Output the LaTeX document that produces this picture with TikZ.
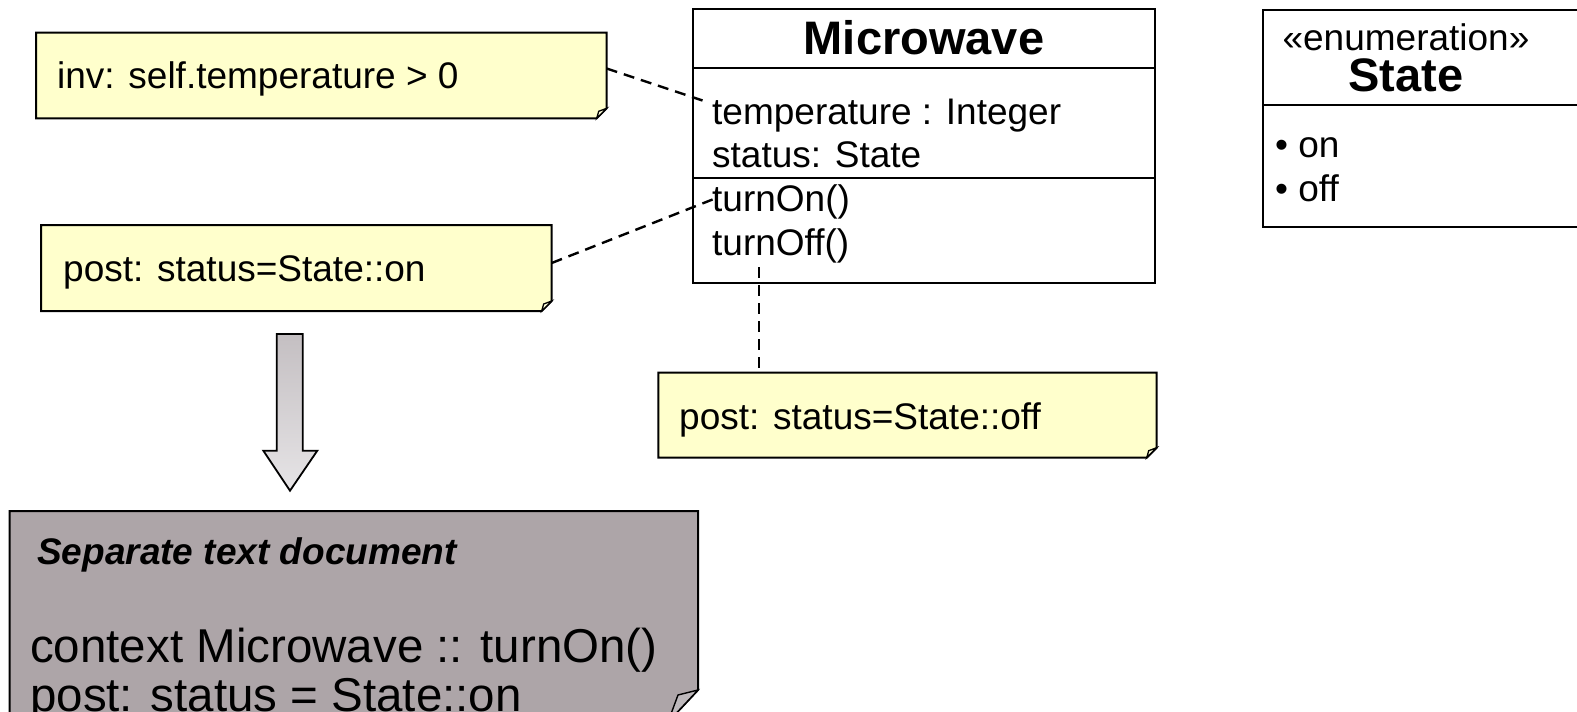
\documentclass[tikz,border=0pt]{standalone}
\usepackage{fontspec}
\setmainfont{Liberation Sans}
\usetikzlibrary{calc,fit}
\definecolor{notefill}{RGB}{255,255,204}
\definecolor{docfill}{RGB}{173,165,168}
\definecolor{docfold}{RGB}{190,185,188}
\definecolor{arrtop}{RGB}{196,191,194}
\definecolor{arrbot}{RGB}{230,228,230}
\begin{document}
\begin{tikzpicture}[x=1pt,y=-1pt,
  frame/.style={inner sep=0pt, outer sep=0pt},
  noteshape/.style={draw=black, line width=2pt, fill=notefill, line join=miter},
  foldshape/.style={draw=black, line width=1.3pt, fill=notefill!70!white},
  docshape/.style={draw=black, line width=2pt, fill=docfill},
  classbox/.style={draw=black, line width=1.9pt},
  txt/.style={inner sep=0pt, anchor=base west, font=\fontsize{37}{44}\selectfont},
  bigtxt/.style={inner sep=0pt, anchor=base west, font=\fontsize{47.5}{52}\selectfont},
  conn/.style={draw=black, line width=2.4pt, dash pattern=on 11pt off 7pt}]
\useasboundingbox (0,0) rectangle (1577,712);
\clip (0,0) rectangle (1577,712);

% ---------- notes ----------
\coordinate (n1a) at (36,32.7);   \coordinate (n1b) at (606.7,118.3);
\coordinate (n2a) at (41,225);    \coordinate (n2b) at (551.7,311);
\coordinate (n3a) at (658.3,372.7); \coordinate (n3b) at (1156.7,457.7);
\node[frame, fit=(n1a)(n1b)] (note1) {};
\node[frame, fit=(n2a)(n2b)] (note2) {};
\node[frame, fit=(n3a)(n3b)] (note3) {};
\foreach \n in {note1,note2,note3}{
  \path[noteshape] (\n.north west) -- (\n.north east) -- ($(\n.south east)+(0,-10)$)
     -- ($(\n.south east)+(-10,0)$) -- (\n.south west) -- cycle;
  \path[foldshape] ($(\n.south east)+(0,-10)$) -- ($(\n.south east)+(-10,0)$)
     -- ($(\n.south east)+(-8,-7)$) -- cycle;
}
\node[txt] (t1) at (57,88) {inv: self.temperature > 0};
\node[txt] (t2) at (63,281) {post: status=State::on};
\node[txt] (t3) at (679,429) {post: status=State::off};

% ---------- Microwave class ----------
\coordinate (mwa) at (692.7,9.3); \coordinate (mwb) at (1155,282.7);
\node[frame, fit=(mwa)(mwb), classbox] (mw) {};
\draw[classbox] (692.7,67.7) -- (1155,67.7);
\draw[classbox] (692.7,177.7) -- (1155,177.7);
\node[inner sep=0pt, anchor=base, font=\bfseries\fontsize{47}{56}\selectfont] (mwname) at (924,54) {Microwave};
\node[txt] (a1) at (712,124) {temperature : Integer};
\node[txt] (a2) at (712,167) {status: State};
\node[txt] (o1) at (712,211) {turnOn()};
\node[txt] (o2) at (712,255) {turnOff()};

% ---------- State enumeration ----------
\coordinate (sa) at (1263,10); \coordinate (sb) at (1610,227);
\node[frame, fit=(sa)(sb), classbox] (st) {};
\draw[classbox] (1263,105) -- (1610,105);
\node[inner sep=0pt, anchor=base, font=\fontsize{37}{44}\selectfont] (stereo) at (1406,50) {«enumeration»};
\node[inner sep=0pt, anchor=base, font=\bfseries\fontsize{47}{56}\selectfont] (stname) at (1406,91) {State};
\node[txt] (e1) at (1275,157) {• on};
\node[txt] (e2) at (1275,201) {• off};

% ---------- connectors ----------
\coordinate (c1e) at (704,101);
\coordinate (c2e) at (713,199.3);
\coordinate (c3s) at (759,267);
\draw[conn] ($(note1.east)+(0,-7)$) -- (c1e);
\draw[conn] ($(note2.east)+(0,-5)$) -- (c2e);
\draw[conn] (c3s) -- (c3s |- note3.north);

% ---------- block arrow ----------
\shade[top color=arrtop, bottom color=arrbot, draw=black, line width=1.8pt, line join=miter]
  (276.7,334) -- (302.7,334) -- (302.7,450.7) -- (317.3,450.7) -- (290,490.7)
  -- (263.3,450.7) -- (276.7,450.7) -- cycle;

% ---------- separate document ----------
\coordinate (da) at (9.5,511); \coordinate (db) at (698,722);
\node[frame, fit=(da)(db)] (doc) {};
\path[docshape] (doc.north west) -- (doc.north east) -- ($(doc.south east)+(0,-32)$)
   -- ($(doc.south east)+(-30,0)$) -- (doc.south west) -- cycle;
\path[draw=black, line width=1.4pt, fill=docfold] ($(doc.south east)+(0,-32)$)
   -- ($(doc.south east)+(-30,0)$) -- ($(doc.south east)+(-20,-27)$) -- cycle;
\node[inner sep=0pt, anchor=base west, font=\bfseries\itshape\fontsize{37}{44}\selectfont] (dh) at (37,564) {Separate text document};
\node[bigtxt] (d1) at (30,662) {context Microwave :: turnOn()};
\node[bigtxt] (d2) at (30,711) {post: status = State::on};
\end{tikzpicture}
\end{document}
